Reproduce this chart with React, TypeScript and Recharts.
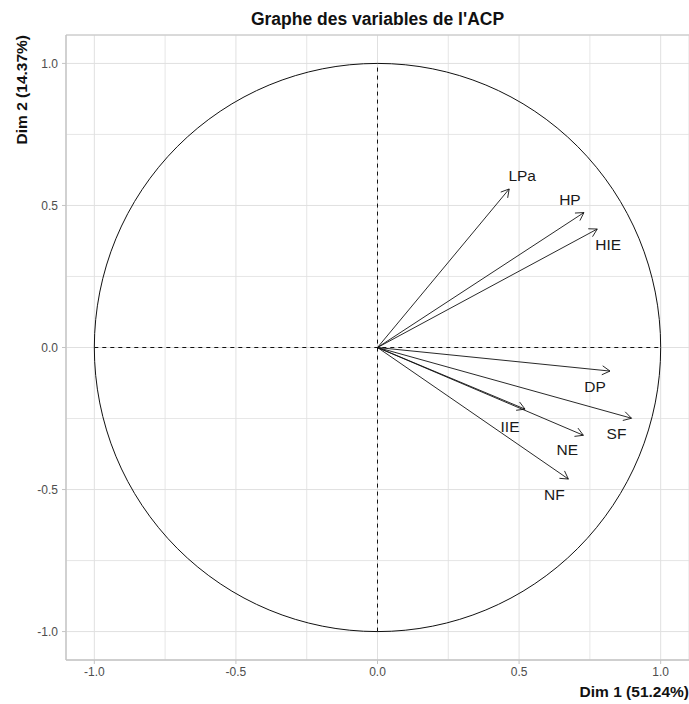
import React from 'react';
import { ScatterChart, Scatter, XAxis, YAxis, CartesianGrid, ReferenceLine } from 'recharts';

// ---- data ----
const variables = ['LPa', 'HP', 'HIE', 'DP', 'SF', 'IIE', 'NE', 'NF'];
const dim1 = [0.465, 0.729, 0.776, 0.821, 0.897, 0.521, 0.727, 0.674];
const dim2 = [0.558, 0.475, 0.417, -0.083, -0.249, -0.217, -0.309, -0.463];
const axisTicks = [-1, -0.5, 0, 0.5, 1];
const minorGrid = [-0.75, -0.25, 0.25, 0.75];
const chartTitle = "Graphe des variables de l'ACP";
const xTitle = 'Dim 1 (51.24%)';
const yTitle = 'Dim 2 (14.37%)';

// label placement (pixel offsets from arrow tip, ggrepel-like)
const labelOffset: Record<string, [number, number]> = {
  LPa: [13, -13],
  HP: [-14, -13],
  HIE: [11, 15],
  DP: [-15, 15],
  SF: [-15, 15],
  IIE: [-15, 17],
  NE: [-16, 14],
  NF: [-14, 15],
};

const points = variables.map((name, i) => ({ name, x: dim1[i], y: dim2[i] }));

const W = 689;
const H = 704;
const FONT = 'Arial, "Liberation Sans", Helvetica, sans-serif';
const GRID = '#e0e0e0';
const BORDER = '#c4c4c4';

const makeArrow = (name: string) => (props: any) => {
  const { x1, y1, x2, y2 } = props;
  const ang = Math.atan2(y2 - y1, x2 - x1);
  const len = 9;
  const spread = Math.PI / 6;
  const ax = x2 - len * Math.cos(ang - spread);
  const ay = y2 - len * Math.sin(ang - spread);
  const bx = x2 - len * Math.cos(ang + spread);
  const by = y2 - len * Math.sin(ang + spread);
  const [dx, dy] = labelOffset[name] || [0, 0];
  return (
    <g>
      <line x1={x1} y1={y1} x2={x2} y2={y2} stroke="#111" strokeWidth={0.9} />
      <polyline points={`${ax},${ay} ${x2},${y2} ${bx},${by}`} fill="none" stroke="#111" strokeWidth={0.9} />
      <text x={x2 + dx} y={y2 + dy} textAnchor="middle" dominantBaseline="central" fontSize={15.5} fontFamily={FONT} fill="#1a1a1a">
        {name}
      </text>
    </g>
  );
};

const circleShape = (props: any) => {
  const { x1, y1, x2, y2 } = props;
  const cx = (x1 + x2) / 2;
  const cy = (y1 + y2) / 2;
  return (
    <ellipse cx={cx} cy={cy} rx={Math.abs(x2 - x1) / 2} ry={Math.abs(y2 - y1) / 2} fill="none" stroke="#111" strokeWidth={1} />
  );
};

export default function App() {
  return (
    <div style={{ position: 'absolute', left: 0, top: 0, width: W, height: H, background: '#fff' }}>
      <div
        style={{
          position: 'absolute',
          left: 66,
          width: 623,
          top: 9,
          lineHeight: '20px',
          textAlign: 'center',
          fontFamily: FONT,
          fontWeight: 'bold',
          fontSize: 17.5,
          color: '#111',
        }}
      >
        {chartTitle}
      </div>
      <ScatterChart width={W} height={H} margin={{ top: 35, right: 0, bottom: 0, left: 0 }}>
        <CartesianGrid stroke={GRID} strokeWidth={1} />
        {minorGrid.map((v) => (
          <ReferenceLine key={`mx${v}`} x={v} stroke={GRID} strokeWidth={0.8} />
        ))}
        {minorGrid.map((v) => (
          <ReferenceLine key={`my${v}`} y={v} stroke={GRID} strokeWidth={0.8} />
        ))}
        <ReferenceLine segment={[{ x: -1.1, y: 1.1 }, { x: 1.1, y: 1.1 }]} stroke={BORDER} strokeWidth={1.2} ifOverflow="visible" />
        <XAxis
          type="number"
          dataKey="x"
          domain={[-1.1, 1.1]}
          ticks={axisTicks}
          tickFormatter={(v: number) => v.toFixed(1)}
          allowDataOverflow
          height={44}
          stroke={BORDER}
          tick={{ fill: '#4d4d4d', fontSize: 12, fontFamily: FONT }}
          tickSize={4}
          tickMargin={3}
          axisLine={{ stroke: BORDER, strokeWidth: 1.4 }}
          tickLine={{ stroke: BORDER }}
          label={{
            content: () => (
              <text x={689} y={697} textAnchor="end" fontSize={15.5} fontWeight="bold" fontFamily={FONT} fill="#111">
                {xTitle}
              </text>
            ),
          }}
        />
        <YAxis
          type="number"
          dataKey="y"
          domain={[-1.1, 1.1]}
          ticks={axisTicks}
          tickFormatter={(v: number) => v.toFixed(1)}
          allowDataOverflow
          width={66}
          stroke={BORDER}
          tick={{ fill: '#4d4d4d', fontSize: 12, fontFamily: FONT }}
          tickSize={4}
          tickMargin={4}
          axisLine={{ stroke: BORDER, strokeWidth: 1.4 }}
          tickLine={{ stroke: BORDER }}
          label={{
            content: () => (
              <text
                x={26.5}
                y={35}
                transform="rotate(-90, 26.5, 35)"
                textAnchor="end"
                fontSize={15.5}
                fontWeight="bold"
                fontFamily={FONT}
                fill="#111"
              >
                {yTitle}
              </text>
            ),
          }}
        />
        <ReferenceLine segment={[{ x: -1, y: -1 }, { x: 1, y: 1 }]} shape={circleShape} ifOverflow="visible" />
        <ReferenceLine segment={[{ x: -1, y: 0 }, { x: 1, y: 0 }]} stroke="#111" strokeDasharray="4 4" strokeWidth={1} />
        <ReferenceLine segment={[{ x: 0, y: -1 }, { x: 0, y: 1 }]} stroke="#111" strokeDasharray="4 4" strokeWidth={1} />
        {points.map((p) => (
          <ReferenceLine key={p.name} segment={[{ x: 0, y: 0 }, { x: p.x, y: p.y }]} shape={makeArrow(p.name)} ifOverflow="visible" />
        ))}
        <Scatter data={points} isAnimationActive={false} shape={() => <g />} />
      </ScatterChart>
    </div>
  );
}
